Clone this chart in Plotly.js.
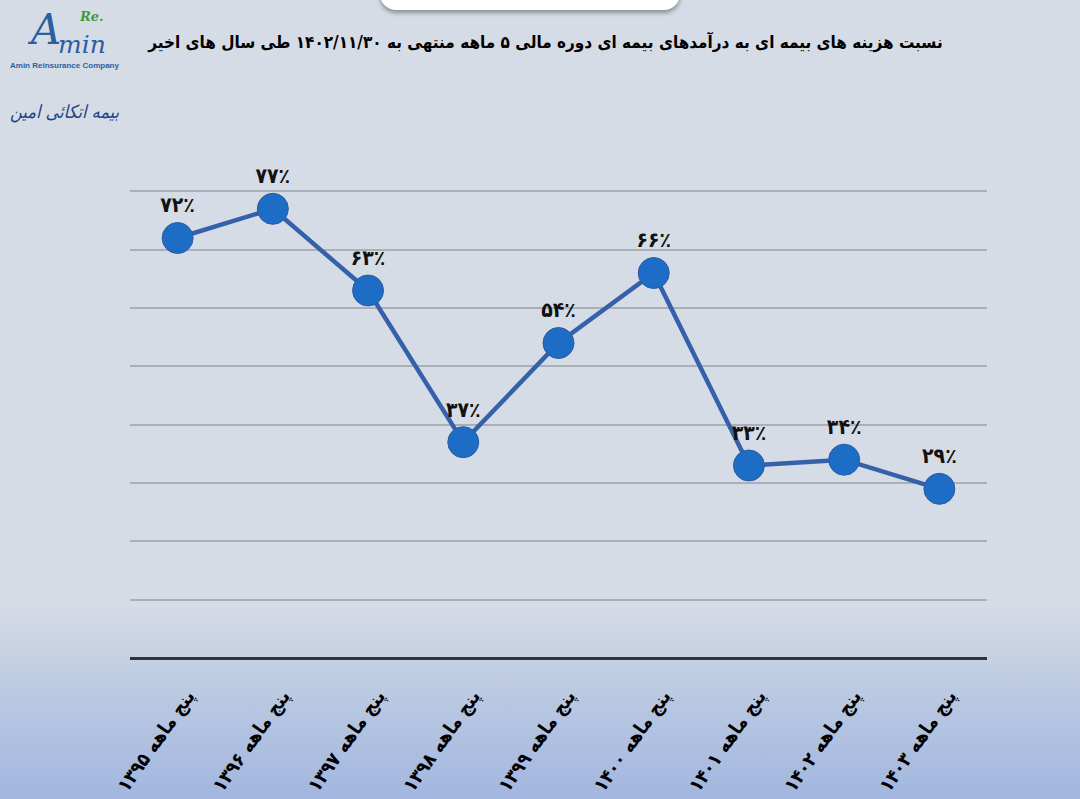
<!DOCTYPE html>
<html>
<head>
<meta charset="utf-8">
<script src="https://cdn.plot.ly/plotly-3.0.1.min.js"></script>
<style>
  html, body { margin: 0; padding: 0; }
  #wrap {
    position: relative;
    width: 1080px;
    height: 799px;
    background: linear-gradient(to bottom, #d6dce6 0%, #d6dce6 76%, #bccae2 86%, #a2b6df 100%);
    overflow: hidden;
  }
  #tab {
    position: absolute;
    left: 380px; top: -20px;
    width: 300px; height: 30px;
    background: #ffffff;
    border-radius: 0 0 16px 16px;
    box-shadow: 0 3px 4px rgba(0,0,0,0.35);
  }
  #chart { position: absolute; left: 0; top: 0; }
</style>
</head>
<body>
<div id="wrap">
  <div id="tab"></div>
  <div id="chart"></div>
</div>
<script>
// data
var periods = ["پنج ماهه ۱۳۹۵", "پنج ماهه ۱۳۹۶", "پنج ماهه ۱۳۹۷", "پنج ماهه ۱۳۹۸", "پنج ماهه ۱۳۹۹",
               "پنج ماهه ۱۴۰۰", "پنج ماهه ۱۴۰۱", "پنج ماهه ۱۴۰۲", "پنج ماهه ۱۴۰۳"];
var ratios = [72, 77, 63, 37, 54, 66, 33, 34, 29];
var ratioLabels = ["۷۲٪", "۷۷٪", "۶۳٪", "۳۷٪", "۵۴٪", "۶۶٪", "۳۳٪", "۳۴٪", "۲۹٪"];

var chartTitle = "نسبت هزینه های بیمه ای به درآمدهای بیمه ای دوره مالی ۵ ماهه منتهی به ۱۴۰۲/۱۱/۳۰ طی سال های اخیر";

var fa = "DejaVu Sans, Noto Sans, sans-serif";
var faNarrow = "DejaVu Sans Condensed, DejaVu Sans, sans-serif";

var data = [
  {
    type: "scatter",
    mode: "lines+markers+text",
    x: periods,
    y: ratios,
    text: ratioLabels,
    textposition: "top center",
    textfont: { family: faNarrow, size: 21, color: "#111111", weight: "bold" },
    line: { color: "#3461a9", width: 4.5 },
    marker: {
      size: 31,
      color: "#1d6dc6",
      line: { color: "#2d5c9f", width: 1 },
    },
    cliponaxis: false,
    hoverinfo: "x+y",
  },
];

var layout = {
  width: 1080,
  height: 799,
  paper_bgcolor: "rgba(0,0,0,0)",
  plot_bgcolor: "rgba(0,0,0,0)",
  showlegend: false,
  margin: { l: 130, r: 93, t: 133, b: 141 },
  title: {
    text: "<b>" + chartTitle + "</b>",
    font: { family: faNarrow, size: 17, color: "#000000" },
    xref: "container",
    yref: "container",
    x: 0.505,
    y: 0.947,
    xanchor: "center",
    yanchor: "middle",
  },
  xaxis: {
    type: "category",
    range: [-0.5, 8.5],
    tickangle: -55,
    tickfont: { family: faNarrow, size: 19, color: "#000000", weight: "bold" },
    ticklabelstandoff: 22,
    ticklabelshift: 10,
    showgrid: false,
    showline: false,
    zeroline: false,
    ticks: "",
    fixedrange: true,
  },
  yaxis: {
    range: [0, 90],
    dtick: 10,
    showticklabels: false,
    showgrid: true,
    gridcolor: "#aab0b8",
    gridwidth: 2,
    zeroline: true,
    zerolinecolor: "#333333",
    zerolinewidth: 3,
    showline: false,
    ticks: "",
    fixedrange: true,
  },
  annotations: [
    // logo, top left corner
    {
      xref: "paper", yref: "paper", x: -0.1, y: 1.198, xanchor: "center", yanchor: "middle",
      text: "<i>A</i>", showarrow: false,
      font: { family: "DejaVu Serif, serif", size: 42, color: "#2a5fa0" },
    },
    {
      xref: "paper", yref: "paper", x: -0.086, y: 1.168, xanchor: "left", yanchor: "middle",
      text: "<i>min</i>", showarrow: false,
      font: { family: "DejaVu Serif, serif", size: 25, color: "#2a5fa0" },
    },
    {
      xref: "paper", yref: "paper", x: -0.062, y: 1.222, xanchor: "left", yanchor: "middle",
      text: "<b><i>Re.</i></b>", showarrow: false,
      font: { family: "DejaVu Serif, serif", size: 13, color: "#3e9b3a" },
    },
    {
      xref: "paper", yref: "paper", x: -0.0765, y: 1.128, xanchor: "center", yanchor: "middle",
      text: "<b>Amin Reinsurance Company</b>", showarrow: false,
      font: { family: "Liberation Sans Narrow, Liberation Sans, sans-serif", size: 8, color: "#2a5fa0" },
    },
    {
      xref: "paper", yref: "paper", x: -0.0765, y: 1.04, xanchor: "center", yanchor: "middle",
      text: "<i>بیمه اتکائی امین</i>", showarrow: false,
      font: { family: faNarrow, size: 18, color: "#1f4486" },
    },
  ],
};

Plotly.newPlot("chart", data, layout, { displayModeBar: false, staticPlot: true });
</script>
</body>
</html>
